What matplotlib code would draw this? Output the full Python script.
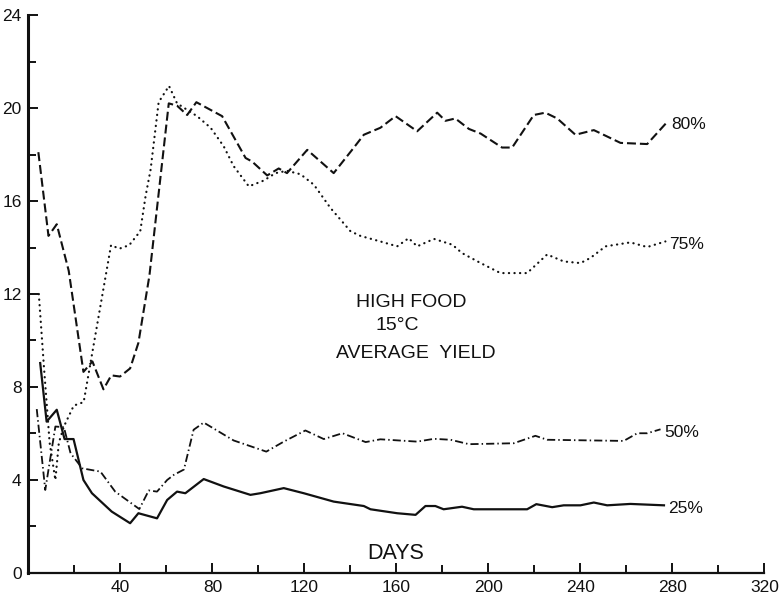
import matplotlib
matplotlib.use("Agg")
import matplotlib.pyplot as plt
from matplotlib.ticker import MultipleLocator, FixedLocator

plt.rcParams['font.family'] = ['Liberation Sans', 'DejaVu Sans']

# 80 % harvest (dashed)
days80 = [4.3, 8.7, 12.3, 17.5, 23.9, 27.8, 32.6, 36.0, 39.8, 44.2, 47.8, 52.6,
          61.0, 64.6, 69.0, 73.0, 84.2, 94.4, 97.2, 103.8, 108.8, 112.4, 121.2,
          132.7, 140.7, 145.8, 153.0, 159.6, 169.0, 177.7, 181.3, 185.6, 191.5,
          196.6, 205.9, 210.3, 219.7, 224.7, 229.9, 237.8, 245.8, 257.4, 269.0, 277.7]
yield80 = [18.1, 14.5, 15.0, 13.0, 8.65, 9.1, 7.9, 8.5, 8.45, 8.8, 9.9, 12.8,
           20.2, 20.1, 19.7, 20.25, 19.65, 17.85, 17.7, 17.1, 17.4, 17.2, 18.2,
           17.2, 18.2, 18.85, 19.15, 19.65, 19.0, 19.8, 19.45, 19.55, 19.1,
           18.9, 18.3, 18.3, 19.7, 19.8, 19.55, 18.85, 19.05, 18.5, 18.45, 19.4]

# 75 % harvest (dotted)
days75 = [4.5, 6.7, 9.2, 11.7, 13.2, 15.4, 19.7, 24.0, 35.9, 39.5, 43.8, 48.6,
          50.9, 53.1, 56.6, 61.1, 64.6, 73.3, 79.2, 84.9, 89.2, 95.8, 102.3,
          107.4, 112.4, 118.3, 124.1, 131.3, 140.0, 144.3, 153.0, 160.3, 165.3,
          169.0, 176.3, 184.3, 188.5, 196.6, 205.2, 216.8, 225.5, 232.7, 240.0,
          244.3, 250.9, 261.7, 269.0, 276.9]
yield75 = [12.0, 8.9, 5.6, 4.0, 5.6, 6.3, 7.2, 7.35, 14.1, 13.95, 14.1, 14.7,
           16.2, 17.35, 20.25, 20.95, 20.2, 19.65, 19.15, 18.35, 17.5, 16.63, 16.88,
           17.2, 17.3, 17.15, 16.7, 15.7, 14.7, 14.5, 14.26, 14.05, 14.4,
           14.05, 14.37, 14.12, 13.76, 13.33, 12.9, 12.9, 13.7, 13.4, 13.33,
           13.55, 14.05, 14.22, 14.02, 14.26]

# 50 % harvest (dash-dot)
days50 = [3.6, 7.3, 11.7, 15.4, 18.3, 23.4, 31.3, 37.7, 48.2, 52.3, 55.9, 60.3,
          63.2, 67.6, 71.8, 76.2, 89.2, 103.4, 111.0, 120.4, 128.4, 136.5, 146.6,
          153.0, 169.0, 176.3, 183.5, 191.5, 211.0, 220.4, 225.5, 258.8, 264.7,
          269.0, 274.8]
yield50 = [7.05, 3.57, 6.3, 6.27, 5.15, 4.5, 4.36, 3.5, 2.75, 3.55, 3.5, 4.0,
           4.22, 4.45, 6.16, 6.47, 5.7, 5.22, 5.65, 6.13, 5.76, 6.01, 5.63,
           5.75, 5.65, 5.77, 5.73, 5.54, 5.58, 5.9, 5.73, 5.68, 6.01,
           6.01, 6.18]

# 25 % harvest (solid)
days25 = [5.1, 7.9, 12.3, 15.7, 19.6, 23.9, 27.6, 36.2, 44.2, 47.8, 55.9, 60.3,
          64.6, 68.2, 76.2, 84.9, 96.5, 100.8, 111.0, 119.7, 132.7, 145.8, 148.7,
          160.3, 168.3, 172.6, 176.9, 180.5, 188.5, 193.6, 216.8, 220.8, 227.7,
          232.7, 240.0, 245.8, 251.6, 261.7, 276.3]
yield25 = [9.03, 6.51, 7.02, 5.76, 5.76, 4.0, 3.43, 2.64, 2.14, 2.57, 2.35, 3.14,
           3.5, 3.43, 4.04, 3.72, 3.36, 3.43, 3.65, 3.43, 3.07, 2.88, 2.74,
           2.57, 2.5, 2.88, 2.88, 2.74, 2.85, 2.74, 2.74, 2.96, 2.83,
           2.91, 2.91, 3.03, 2.91, 2.97, 2.91]

series_labels = ['80%', '75%', '50%', '25%']

ink = '#111111'
fig = plt.figure(figsize=(7.82, 5.94), dpi=100)
ax = fig.add_axes([0.0364, 0.0354, 0.9412, 0.9393])

ax.plot(days80, yield80, color=ink, lw=1.5, linestyle=(0, (4.3, 1.9)))
ax.plot(days75, yield75, color=ink, lw=1.6, linestyle=(0, (0.1, 2.4)),
        dash_capstyle='round')
ax.plot(days50, yield50, color=ink, lw=1.3, linestyle=(0, (4.5, 1.7, 0.8, 1.7)))
ax.plot(days25, yield25, color=ink, lw=1.6)

# end labels
for xs, ys, lab in zip([days80, days75, days50, days25],
                       [yield80, yield75, yield50, yield25], series_labels):
    ax.annotate(lab, (xs[-1], ys[-1]), xytext=(3, -2), textcoords='offset points',
                ha='left', va='center', fontsize=12.5, color=ink)

# text in the plot
ax.text(166.5, 11.64, 'HIGH FOOD', ha='center', va='center', fontsize=14, color=ink)
ax.text(160.3, 10.65, '15°C', ha='center', va='center', fontsize=14, color=ink)
ax.text(168.3, 9.45, 'AVERAGE  YIELD', ha='center', va='center', fontsize=14, color=ink)
ax.text(159.8, 0.82, 'DAYS', ha='center', va='center', fontsize=15.5, color=ink)

ax.set_xlim(0, 320)
ax.set_ylim(0, 24)
ax.xaxis.set_major_locator(FixedLocator([40, 80, 120, 160, 200, 240, 280, 320]))
ax.xaxis.set_minor_locator(FixedLocator([20, 60, 100, 140, 180, 220, 260, 300]))
ax.yaxis.set_major_locator(MultipleLocator(4))
ax.yaxis.set_minor_locator(MultipleLocator(2))

ax.spines['top'].set_visible(False)
ax.spines['right'].set_visible(False)
ax.spines['left'].set_linewidth(2.2)
ax.spines['bottom'].set_linewidth(1.6)
ax.spines['left'].set_color(ink)
ax.spines['bottom'].set_color(ink)

ax.tick_params(axis='both', which='both', direction='in', color=ink, labelcolor=ink)
ax.tick_params(axis='both', which='major', length=7, width=1.4, labelsize=12.5, pad=5)
ax.tick_params(axis='both', which='minor', length=6, width=1.4)

fig.savefig('out.png', dpi=100)
